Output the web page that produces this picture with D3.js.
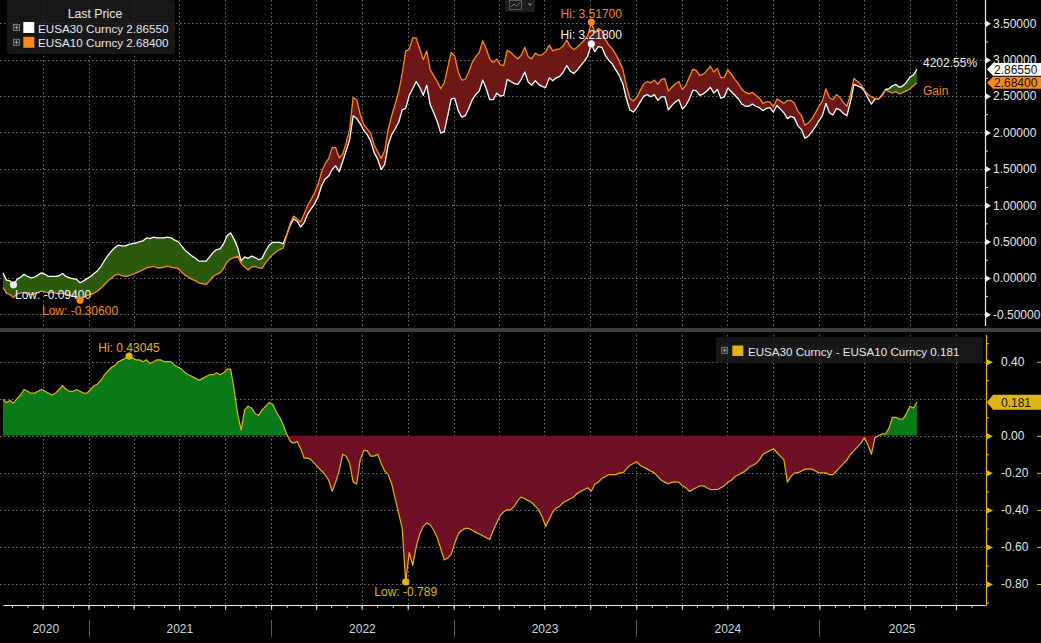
<!DOCTYPE html>
<html><head><meta charset="utf-8">
<script src="https://cdn.jsdelivr.net/npm/d3@7"></script>
<style>html,body{margin:0;padding:0;background:#000;overflow:hidden}
text{font-family:"Liberation Sans",Arial,sans-serif;}</style>
</head><body>
<svg id="chart" width="1041" height="643"></svg>
<script>
// ---------------- data ----------------
const startDate = "2020-07-14";   // first weekly observation
const axisEnd = "2025-11-28";     // right end of time axis
const stepDays = 7;
const seriesNames = ["EUSA30 Curncy", "EUSA10 Curncy"];
const spreadName = "EUSA30 Curncy - EUSA10 Curncy";
const years = [2020, 2021, 2022, 2023, 2024, 2025];
const topTicks = [-0.5, 0, 0.5, 1, 1.5, 2, 2.5, 3, 3.5];
const topMinor = [-0.25, 0.25, 0.75, 1.25, 1.75, 2.25, 2.75, 3.25];
const botTicks = [-0.8, -0.6, -0.4, -0.2, 0, 0.4];
const botMinor = [-0.9, -0.7, -0.5, -0.3, -0.1, 0.1, 0.3, 0.5];
const gainLabel = "4202.55%";
const gainWord = "Gain";
const legendTitle = "Last Price";

// EUSA10 weekly
const eusa10 = [
 -0.13,-0.21,-0.23,-0.27,-0.22,-0.21,-0.20,-0.22,-0.23,-0.22,
 -0.20,-0.18,-0.19,-0.21,-0.20,-0.21,-0.22,-0.21,-0.23,-0.24,
 -0.25,-0.27,-0.306,-0.27,-0.24,-0.23,-0.21,-0.18,-0.14,-0.09,
 -0.04,0.00,0.04,0.05,0.03,0.02,0.03,0.05,0.07,0.09,
 0.11,0.14,0.15,0.16,0.14,0.14,0.15,0.16,0.15,0.14,
 0.13,0.08,0.04,0.01,-0.02,-0.04,-0.07,-0.08,-0.09,-0.04,
 0.02,0.05,0.07,0.13,0.22,0.26,0.28,0.30,0.20,0.15,
 0.11,0.15,0.16,0.14,0.13,0.21,0.27,0.32,0.36,0.39,
 0.41,0.58,0.75,0.85,0.81,0.77,0.88,1.00,1.08,1.17,
 1.29,1.46,1.57,1.64,1.79,1.79,1.65,1.70,1.86,2.05,
 2.48,2.45,2.25,2.11,2.05,1.99,1.83,1.73,1.64,1.75,
 2.04,2.23,2.39,2.56,2.81,3.12,3.14,3.30,3.30,3.15,
 3.00,3.12,2.86,2.78,2.70,2.60,2.68,2.89,3.10,3.05,
 2.83,2.72,2.73,2.83,2.96,3.04,3.10,3.26,3.15,3.01,
 2.96,3.01,2.93,2.92,3.13,3.10,3.05,3.01,3.06,3.17,
 3.04,3.01,3.09,3.06,3.07,3.11,3.20,3.12,3.14,3.15,
 3.19,3.27,3.18,3.14,3.17,3.22,3.27,3.33,3.517,3.37,
 3.43,3.40,3.28,3.20,3.15,3.07,2.98,2.87,2.65,2.47,
 2.43,2.48,2.58,2.67,2.70,2.68,2.72,2.66,2.73,2.74,
 2.57,2.62,2.67,2.70,2.59,2.65,2.76,2.87,2.85,2.78,
 2.80,2.85,2.91,2.83,2.88,2.75,2.76,2.86,2.80,2.73,
 2.67,2.59,2.55,2.53,2.55,2.51,2.47,2.40,2.42,2.42,
 2.35,2.46,2.43,2.40,2.44,2.44,2.40,2.29,2.23,2.10,
 2.13,2.19,2.27,2.36,2.43,2.60,2.48,2.45,2.52,2.48,
 2.41,2.36,2.52,2.74,2.70,2.66,2.58,2.52,2.49,2.47,
 2.46,2.50,2.58,2.56,2.54,2.56,2.53,2.55,2.57,2.60,
 2.64,2.684];

// EUSA30 - EUSA10 spread weekly
const spread = [
 0.196,0.18,0.19,0.176,0.20,0.22,0.25,0.24,0.23,0.23,
 0.24,0.25,0.24,0.23,0.22,0.23,0.25,0.27,0.25,0.24,
 0.24,0.25,0.24,0.23,0.23,0.25,0.27,0.28,0.30,0.33,
 0.35,0.37,0.38,0.40,0.41,0.42,0.43045,0.42,0.41,0.41,
 0.40,0.41,0.39,0.40,0.41,0.41,0.40,0.40,0.40,0.38,
 0.37,0.36,0.34,0.33,0.32,0.31,0.30,0.31,0.32,0.33,
 0.33,0.34,0.33,0.34,0.36,0.36,0.25,0.12,0.03,0.14,
 0.16,0.15,0.12,0.11,0.14,0.16,0.18,0.17,0.13,0.10,
 0.06,0.01,-0.03,-0.04,-0.03,-0.07,-0.12,-0.12,-0.13,-0.15,
 -0.17,-0.19,-0.21,-0.24,-0.30,-0.25,-0.19,-0.10,-0.11,-0.15,
 -0.25,-0.26,-0.13,-0.08,-0.08,-0.11,-0.11,-0.10,-0.15,-0.19,
 -0.21,-0.26,-0.34,-0.42,-0.50,-0.789,-0.63,-0.70,-0.60,-0.53,
 -0.49,-0.47,-0.48,-0.51,-0.55,-0.61,-0.67,-0.66,-0.64,-0.58,
 -0.53,-0.51,-0.50,-0.50,-0.51,-0.52,-0.53,-0.54,-0.55,-0.56,
 -0.51,-0.47,-0.43,-0.41,-0.40,-0.40,-0.38,-0.35,-0.33,-0.34,
 -0.35,-0.36,-0.38,-0.40,-0.44,-0.49,-0.45,-0.41,-0.39,-0.38,
 -0.36,-0.35,-0.34,-0.33,-0.31,-0.30,-0.29,-0.28,-0.299,-0.26,
 -0.25,-0.23,-0.22,-0.21,-0.21,-0.21,-0.20,-0.20,-0.18,-0.16,
 -0.15,-0.14,-0.16,-0.17,-0.18,-0.19,-0.20,-0.22,-0.24,-0.25,
 -0.26,-0.25,-0.25,-0.25,-0.27,-0.28,-0.30,-0.29,-0.28,-0.27,
 -0.27,-0.28,-0.29,-0.29,-0.29,-0.28,-0.27,-0.25,-0.24,-0.22,
 -0.21,-0.20,-0.19,-0.17,-0.16,-0.15,-0.13,-0.10,-0.09,-0.08,
 -0.07,-0.09,-0.11,-0.13,-0.25,-0.22,-0.20,-0.20,-0.19,-0.18,
 -0.18,-0.18,-0.19,-0.20,-0.20,-0.20,-0.21,-0.21,-0.19,-0.17,
 -0.15,-0.13,-0.10,-0.08,-0.06,-0.04,-0.01,-0.05,-0.10,-0.01,
 0.00,0.01,0.01,0.04,0.10,0.10,0.09,0.09,0.12,0.16,
 0.15,0.1815];

// ---------------- setup ----------------
const W = 1041, H = 643;
const svg = d3.select("#chart");
svg.append("rect").attr("width", W).attr("height", H).attr("fill", "#000");

const C = {
  white: "#ffffff", orange: "#f5891e", gold: "#e0b411",
  topGreen: "#2c5a0c", topRed: "#6e1717",
  botGreen: "#0a7a19", botRed: "#6f0f25",
  grid: "#6e6e6e", text: "#e4e8ec"
};

const loc = d3.formatLocale({decimal: ".", thousands: ",", grouping: [3], currency: ["", ""], minus: "-"});
const fmt5 = loc.format(".5f"), fmt2 = loc.format(".2f"), fmt3 = loc.format(".3f");

const parse = d3.utcParse("%Y-%m-%d");
const t0 = parse(startDate), tEnd = parse(axisEnd);
const dates = eusa10.map((_, i) => d3.utcDay.offset(t0, i * stepDays));
const eusa30 = eusa10.map((v, i) => Math.round((v + spread[i]) * 1e5) / 1e5);
const data = dates.map((d, i) => ({date: d, w: eusa30[i], o: eusa10[i], s: spread[i]}));

const TOP0 = 0, TOP1 = 326, BOT0 = 333, BOT1 = 605, XR = 985;
const x = d3.scaleUtc().domain([t0, tEnd]).range([3, XR]);
const yT = d3.scaleLinear().domain([-0.5, 3.5]).range([314.3, 23.3]);
const yB = d3.scaleLinear().domain([-0.8, 0.4]).range([584, 361.7]);
const px = v => Math.round(v) + 0.5;

// ---------------- grid ----------------
const grid = svg.append("g").attr("stroke", C.grid).attr("stroke-width", 1).attr("stroke-dasharray", "1.5,2.5");
topTicks.forEach(v => grid.append("line").attr("x1", 0).attr("x2", XR).attr("y1", px(yT(v))).attr("y2", px(yT(v))));
[-0.8, -0.6, -0.4, -0.2, 0, 0.2, 0.4].forEach(v => grid.append("line").attr("x1", 0).attr("x2", XR).attr("y1", px(yB(v))).attr("y2", px(yB(v))));
const quarters = d3.utcMonth.every(3).range(d3.utcMonth.ceil(t0), tEnd);
quarters.forEach(q => {
  grid.append("line").attr("x1", px(x(q))).attr("x2", px(x(q))).attr("y1", TOP0).attr("y2", TOP1);
  grid.append("line").attr("x1", px(x(q))).attr("x2", px(x(q))).attr("y1", BOT0 + 2).attr("y2", BOT1);
});

// ---------------- top panel fills ----------------
const defs = svg.append("defs");
const aboveO = d3.area().x(d => x(d.date)).y0(TOP0).y1(d => yT(d.o));
const belowO = d3.area().x(d => x(d.date)).y0(TOP1).y1(d => yT(d.o));
defs.append("clipPath").attr("id", "cAbove").append("path").attr("d", aboveO(data));
defs.append("clipPath").attr("id", "cBelow").append("path").attr("d", belowO(data));
const band = d3.area().x(d => x(d.date)).y0(d => yT(d.o)).y1(d => yT(d.w));
svg.append("path").attr("d", band(data)).attr("fill", C.topGreen).attr("clip-path", "url(#cAbove)");
svg.append("path").attr("d", band(data)).attr("fill", C.topRed).attr("clip-path", "url(#cBelow)");

const lineW = d3.line().x(d => x(d.date)).y(d => yT(d.w));
const lineO = d3.line().x(d => x(d.date)).y(d => yT(d.o));
svg.append("path").attr("d", lineW(data)).attr("fill", "none").attr("stroke", C.white).attr("stroke-width", 1.3).attr("stroke-linejoin", "round");
svg.append("path").attr("d", lineO(data)).attr("fill", "none").attr("stroke", C.orange).attr("stroke-width", 1.3).attr("stroke-linejoin", "round");

// ---------------- bottom panel ----------------
const z0 = yB(0);
defs.append("clipPath").attr("id", "cPos").append("rect").attr("x", 0).attr("y", BOT0).attr("width", XR).attr("height", z0 - BOT0);
defs.append("clipPath").attr("id", "cNeg").append("rect").attr("x", 0).attr("y", z0).attr("width", XR).attr("height", BOT1 - z0);
const sArea = d3.area().x(d => x(d.date)).y0(z0).y1(d => yB(d.s));
svg.append("path").attr("d", sArea(data)).attr("fill", C.botGreen).attr("clip-path", "url(#cPos)");
svg.append("path").attr("d", sArea(data)).attr("fill", C.botRed).attr("clip-path", "url(#cNeg)");
const sLine = d3.line().x(d => x(d.date)).y(d => yB(d.s));
svg.append("path").attr("d", sLine(data)).attr("fill", "none").attr("stroke", C.gold).attr("stroke-width", 1.2).attr("stroke-linejoin", "round");

// ---------------- hi / low annotations ----------------
function annotate(idx, yv, color, label, above) {
  const d = data[idx];
  const cx = x(d.date), cy = yv(d);
  svg.append("circle").attr("cx", cx).attr("cy", cy).attr("r", 3.6).attr("fill", color);
  const t = svg.append("text").attr("y", above ? cy - 8.4 : cy + 10.5).attr("dominant-baseline", "central")
    .attr("font-size", 12).attr("fill", color).text(label);
  const w = t.node().getComputedTextLength();
  t.attr("x", Math.max(15, cx - w / 2));
}
const iwMin = d3.minIndex(eusa30), iwMax = d3.maxIndex(eusa30);
const ioMin = d3.minIndex(eusa10), ioMax = d3.maxIndex(eusa10);
const isMin = d3.minIndex(spread), isMax = d3.maxIndex(spread);
annotate(iwMin, d => yT(d.w), "#eef2f6", "Low: " + fmt5(eusa30[iwMin]), false);
annotate(ioMin, d => yT(d.o), C.orange, "Low: " + fmt5(eusa10[ioMin]), false);
annotate(ioMax, d => yT(d.o), C.orange, "Hi: " + fmt5(eusa10[ioMax]), true);
annotate(iwMax, d => yT(d.w), "#eef2f6", "Hi: " + fmt5(eusa30[iwMax]), true);
annotate(isMax, d => yB(d.s), C.gold, "Hi: " + fmt5(spread[isMax]), true);
annotate(isMin, d => yB(d.s), C.gold, "Low: " + fmt3(spread[isMin]), false);

// ---------------- divider ----------------
svg.append("rect").attr("x", 0).attr("y", 328).attr("width", W).attr("height", 4).attr("fill", "#3e3e3e");

// ---------------- x axis ----------------
const xAxis = d3.axisBottom(x).ticks(d3.utcMonth.every(1)).tickSize(3).tickSizeOuter(0).tickFormat("");
svg.append("g").attr("transform", "translate(0,605)").call(xAxis)
  .call(g => { g.select(".domain").attr("stroke", "#f0f0f0").attr("stroke-width", 1.2); g.selectAll(".tick line").attr("stroke", "#cfcfcf"); });
const xAxisQ = d3.axisBottom(x).ticks(d3.utcMonth.every(3)).tickSize(5).tickSizeOuter(0).tickFormat("");
svg.append("g").attr("transform", "translate(0,605)").call(xAxisQ)
  .call(g => { g.select(".domain").remove(); g.selectAll(".tick line").attr("stroke", "#e0e0e0"); });

years.forEach(yr => {
  const a = Math.max(3, x(Date.UTC(yr, 0, 1))), b = Math.min(XR, x(Date.UTC(yr + 1, 0, 1)));
  if (yr > years[0]) svg.append("line").attr("x1", px(x(Date.UTC(yr, 0, 1)))).attr("x2", px(x(Date.UTC(yr, 0, 1))))
    .attr("y1", 620).attr("y2", 637).attr("stroke", "#5a5a5a");
  svg.append("text").attr("x", (a + b) / 2).attr("y", 629).attr("text-anchor", "middle").attr("dominant-baseline", "central")
    .attr("font-size", 12).attr("fill", "#cdd6de").text(yr);
});

// ---------------- right axes ----------------
svg.append("line").attr("x1", XR + 0.5).attr("x2", XR + 0.5).attr("y1", 0).attr("y2", TOP1).attr("stroke", "#f0f0f0").attr("stroke-width", 1.2);
const yTAxis = d3.axisRight(yT).tickValues(topTicks).tickFormat(fmt5).tickSize(0).tickPadding(8);
svg.append("g").attr("transform", `translate(${XR},0)`).call(yTAxis)
  .call(g => {
    g.select(".domain").remove();
    g.selectAll(".tick text").attr("fill", C.text).attr("font-size", 12).attr("font-family", "Liberation Sans, Arial, sans-serif");
    g.selectAll(".tick").append("path").attr("d", "M1,-3L6,0L1,3Z").attr("fill", "#f0f0f0");
  });
const yTMinor = d3.axisRight(yT).tickValues(topMinor).tickFormat("").tickSize(3);
svg.append("g").attr("transform", `translate(${XR},0)`).call(yTMinor)
  .call(g => { g.select(".domain").remove(); g.selectAll(".tick line").attr("stroke", "#e0e0e0"); });

svg.append("line").attr("x1", XR + 1.5).attr("x2", XR + 1.5).attr("y1", BOT0 + 2).attr("y2", BOT1 + 1).attr("stroke", C.gold).attr("stroke-width", 1.2);
const yBAxis = d3.axisRight(yB).tickValues(botTicks).tickFormat(fmt2).tickSize(0).tickPadding(15);
svg.append("g").attr("transform", `translate(${XR + 1},0)`).call(yBAxis)
  .call(g => {
    g.select(".domain").remove();
    g.selectAll(".tick text").attr("fill", C.text).attr("font-size", 12).attr("font-family", "Liberation Sans, Arial, sans-serif");
    g.selectAll(".tick").append("path").attr("d", "M1,-3L7,0L1,3Z").attr("fill", C.gold);
    g.selectAll(".tick").append("line").attr("x1", 51).attr("x2", 55).attr("stroke", C.gold);
  });
const yBMinor = d3.axisRight(yB).tickValues(botMinor).tickFormat("").tickSize(3);
svg.append("g").attr("transform", `translate(${XR + 1},0)`).call(yBMinor)
  .call(g => { g.select(".domain").remove(); g.selectAll(".tick line").attr("stroke", C.gold); });

// ---------------- value tags ----------------
function tag(yc, h, fill, label, tx) {
  const x0 = 987, xb = 993;
  svg.append("path").attr("d", `M${x0},${yc}L${xb},${yc - h / 2}L${W},${yc - h / 2}L${W},${yc + h / 2}L${xb},${yc + h / 2}Z`).attr("fill", fill);
  svg.append("text").attr("x", tx).attr("y", yc + 0.5).attr("dominant-baseline", "central").attr("font-size", 12)
    .attr("fill", "#111").text(label);
}
const last = data[data.length - 1];
tag(yT(last.w), 12.8, "#ffffff", fmt5(last.w), 994);
tag(yT(last.o), 12, C.orange, fmt5(last.o), 994);
tag(yB(last.s), 15, C.gold, fmt3(last.s), 1001);

// gain text
svg.append("text").attr("x", 923).attr("y", 62.5).attr("dominant-baseline", "central").attr("font-size", 12).attr("fill", "#e8ecf0").text(gainLabel);
svg.append("text").attr("x", 923).attr("y", 91).attr("dominant-baseline", "central").attr("font-size", 12).attr("fill", C.orange).text(gainWord);

// ---------------- legends ----------------
function plusIcon(g, cx, cy) {
  g.append("rect").attr("x", cx - 3).attr("y", cy - 3).attr("width", 6).attr("height", 6).attr("fill", "#2a2a2a").attr("stroke", "#8a8a8a").attr("stroke-width", 0.8);
  g.append("path").attr("d", `M${cx - 1.8},${cy}H${cx + 1.8}M${cx},${cy - 1.8}V${cy + 1.8}`).attr("stroke", "#b0b0b0").attr("stroke-width", 0.8);
}
const lg = svg.append("g");
lg.append("rect").attr("x", 7).attr("y", 0).attr("width", 168).attr("height", 54).attr("rx", 3).attr("fill", "rgba(28,28,28,0.82)");
lg.append("text").attr("x", 95).attr("y", 13.5).attr("text-anchor", "middle").attr("dominant-baseline", "central").attr("font-size", 12.3).attr("fill", C.text).text(legendTitle);
[[eusa30, C.white], [eusa10, C.orange]].forEach(([arr, col], i) => {
  const cy = 27.5 + i * 14.8;
  plusIcon(lg, 16.5, cy);
  lg.append("rect").attr("x", 23.3).attr("y", cy - 5.5).attr("width", 11).attr("height", 11).attr("fill", col);
  lg.append("text").attr("x", 38).attr("y", cy + 0.5).attr("dominant-baseline", "central").attr("font-size", 11.7).attr("fill", C.text)
    .text(seriesNames[i] + " " + fmt5(arr[arr.length - 1]));
});

const lg2 = svg.append("g");
lg2.append("rect").attr("x", 716).attr("y", 337).attr("width", 267).attr("height", 26).attr("rx", 3).attr("fill", "rgba(28,28,28,0.82)");
plusIcon(lg2, 724.7, 350.3);
lg2.append("rect").attr("x", 732.3).attr("y", 345.5).attr("width", 11).attr("height", 10.5).attr("fill", C.gold);
lg2.append("text").attr("x", 748).attr("y", 351).attr("dominant-baseline", "central").attr("font-size", 11.6).attr("fill", C.text)
  .text(spreadName + " " + fmt3(spread[spread.length - 1]));

// ---------------- chart-type icon ----------------
const ic = svg.append("g");
ic.append("rect").attr("x", 505).attr("y", -2).attr("width", 30).attr("height", 14).attr("rx", 2).attr("fill", "#1c1c1c");
ic.append("rect").attr("x", 509.5).attr("y", 0.5).attr("width", 12).attr("height", 9).attr("fill", "none").attr("stroke", "#6a6a6a").attr("stroke-width", 0.8);
ic.append("path").attr("d", "M511,7L514,4L516.5,6L520,2.5").attr("fill", "none").attr("stroke", "#8a8a8a").attr("stroke-width", 0.9);
ic.append("path").attr("d", "M527.5,3.5L532.5,3.5L530,6Z").attr("fill", "#7a7a7a");
</script>
</body></html>
